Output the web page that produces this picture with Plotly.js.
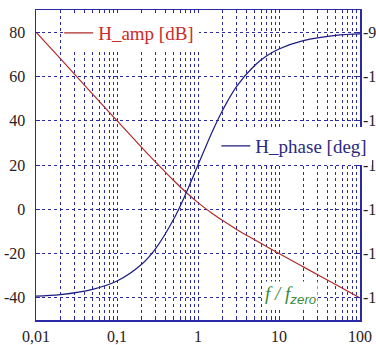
<!DOCTYPE html>
<html>
<head>
<meta charset="utf-8">
<script src="https://cdn.plot.ly/plotly-3.0.1.min.js"></script>
<style>html,body{margin:0;padding:0;overflow:hidden;background:#fff;width:376px;height:345px;}</style>
</head>
<body>
<div id="chart" style="width:400px;height:345px;"></div>
<script>
// frequency ratio f / f_zero
const freq = [0.01, 0.02, 0.05, 0.1, 0.2, 0.3, 0.5, 0.7, 1, 1.5, 2, 3, 5, 7, 10, 20, 50, 100];
// H_amp [dB]
const hAmp = [80.0, 68.0, 52.0, 40.0, 28.1, 21.3, 13.0, 7.9, 3.0, -1.9, -5.0, -9.1, -13.8, -16.8, -20.0, -26.0, -34.0, -40.0];
// H_phase [deg] (right axis)
const hPhase = [-179.4, -178.9, -177.1, -174.3, -168.7, -163.3, -153.4, -145.0, -135.0, -123.7, -116.6, -108.4, -101.3, -98.1, -95.7, -92.9, -91.1, -90.6];

// tick labels
const xDecades = [0.01, 0.1, 1, 10, 100];
const xDecadeLabels = ["0,01", "0,1", "1", "10", "100"];
const leftTicks = [-40, -20, 0, 20, 40, 60, 80];
const leftLabels = ["-40", "-20", "0", "20", "40", "60", "80"];
const rightTicks = [-180, -165, -150, -135, -120, -105, -90];
const rightLabels = ["-180", "-165", "-150", "-135", "-120", "-105", "-90"];

// log grid positions 1..9 per decade, labels only at decades
const xTickVals = [];
const xTickText = [];
xDecades.forEach((d, i) => {
  const kmax = i === xDecades.length - 1 ? 1 : 9;
  for (let k = 1; k <= kmax; k++) {
    xTickVals.push(+(d * k).toPrecision(3));
    xTickText.push(k === 1 ? xDecadeLabels[i] : "");
  }
});

const gridC = '#2c2ca0';
const frameC = '#2a2aa8';
const tickFont = {family: 'Liberation Serif, Times New Roman, serif', size: 16, color: '#2a2020'};

const data = [
  {x: freq, y: hAmp, type: 'scatter', mode: 'lines', name: 'H_amp [dB]',
   line: {color: '#b02a2a', width: 1.2, shape: 'spline'}, legend: 'legend', hoverinfo: 'skip'},
  {x: freq, y: hPhase, type: 'scatter', mode: 'lines', name: 'H_phase [deg]', yaxis: 'y2',
   line: {color: '#1c1c80', width: 1.2, shape: 'spline'}, legend: 'legend2', hoverinfo: 'skip'}
];

const layout = {
  width: 400, height: 345,
  margin: {l: 36, r: 40, t: 10, b: 25, autoexpand: false},
  paper_bgcolor: '#fff', plot_bgcolor: '#fff',
  showlegend: true,
  xaxis: {
    type: 'log', range: [-2, 2],
    tickmode: 'array', tickvals: xTickVals, ticktext: xTickText,
    showgrid: true, gridcolor: gridC, griddash: 'dot', gridwidth: 1,
    ticks: 'inside', ticklen: 4, tickcolor: frameC,
    showline: true, linecolor: frameC, linewidth: 1.5, mirror: true,
    tickfont: tickFont, ticklabelstandoff: 1, ticklabeloverflow: 'allow', zeroline: false
  },
  yaxis: {
    range: [-50, 90], tickmode: 'array', tickvals: leftTicks, ticktext: leftLabels,
    showgrid: true, gridcolor: gridC, griddash: 'dot', gridwidth: 1,
    ticks: 'inside', ticklen: 4, tickcolor: frameC,
    showline: true, linecolor: frameC, linewidth: 1.5, mirror: true,
    tickfont: tickFont, ticklabelstandoff: 6, ticklabeloverflow: 'allow', zeroline: false
  },
  yaxis2: {
    overlaying: 'y', side: 'right', range: [-187.5, -82.5],
    tickmode: 'array', tickvals: rightTicks, ticktext: rightLabels,
    showgrid: false, zeroline: false,
    ticks: 'inside', ticklen: 4, tickcolor: frameC,
    tickfont: tickFont, ticklabelstandoff: 2, ticklabeloverflow: 'allow'
  },
  legend: {
    x: 0.087, y: 0.926, xanchor: 'left', yanchor: 'middle',
    bgcolor: '#fff', borderwidth: 0, itemwidth: 30, indentation: -6,
    font: {family: 'Liberation Serif, Times New Roman, serif', size: 19, color: '#cc2a2a'}
  },
  legend2: {
    x: 0.572, y: 0.561, xanchor: 'left', yanchor: 'middle',
    bgcolor: '#fff', borderwidth: 0, itemwidth: 30, indentation: -6,
    font: {family: 'Liberation Serif, Times New Roman, serif', size: 19, color: '#2a2a80'}
  },
  annotations: [{
    xref: 'paper', yref: 'paper', x: 0.785, y: 0.035, xanchor: 'center', yanchor: 'bottom',
    text: '<i>f / f<sub><span style="font-family:Liberation Sans, Arial, sans-serif">zero</span></sub></i>',
    showarrow: false, bgcolor: '#fff',
    font: {family: 'Liberation Serif, Times New Roman, serif', size: 19, color: '#3a8a3a'}
  }]
};

Plotly.newPlot('chart', data, layout, {staticPlot: true, displayModeBar: false});
</script>
</body>
</html>
